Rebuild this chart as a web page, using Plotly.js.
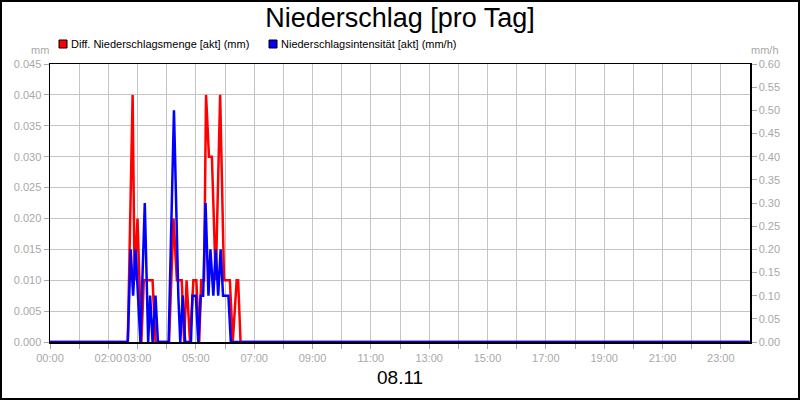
<!DOCTYPE html>
<html>
<head>
<meta charset="utf-8">
<script src="https://cdn.plot.ly/plotly-3.0.1.min.js"></script>
<style>
html,body{margin:0;padding:0;background:#fff;}
#frame{width:796px;height:396px;border:2px solid #000;}
#chart{width:796px;height:396px;}
</style>
</head>
<body>
<div id="frame"><div id="chart"></div></div>
<script>
const day = "2024-11-08";
const dateLabel = "08.11";
const chartTitle = "Niederschlag [pro Tag]";
const redName = "Diff. Niederschlagsmenge [akt] (mm)";
const blueName = "Niederschlagsintensität [akt] (mm/h)";
const leftUnit = "mm";
const rightUnit = "mm/h";

const hourTicks = ["00:00","01:00","02:00","03:00","04:00","05:00","06:00","07:00","08:00","09:00","10:00","11:00",
                   "12:00","13:00","14:00","15:00","16:00","17:00","18:00","19:00","20:00","21:00","22:00","23:00"];
const hourLabels = ["00:00","","02:00","03:00","","05:00","","07:00","","09:00","","11:00",
                    "","13:00","","15:00","","17:00","","19:00","","21:00","","23:00"];

const redTimes = ["00:00","02:40","02:50","02:54","03:00","03:08","03:13","03:31","03:37","04:05","04:14","04:21",
                  "04:31","04:36","04:41","04:48","04:55","05:01","05:07","05:11","05:17","05:21","05:27","05:33",
                  "05:41","05:50","05:58","06:10","06:16","06:24","06:27","06:32","23:59"];
const redValues = [0,0,0.04,0.01,0.02,0,0.01,0.01,0,0,0.02,0.01,
                   0.01,0,0.01,0,0.01,0.01,0,0.01,0.01,0.04,0.03,0.03,
                   0.01,0.04,0.01,0.01,0,0.01,0.01,0,0];

const blueTimes = ["00:00","02:40","02:46","02:51","02:56","03:06","03:15","03:22","03:26","03:31","03:37","03:42",
                   "04:04","04:15","04:24","04:28","04:33","04:38","04:50","04:53","05:00","05:05","05:10","05:15",
                   "05:20","05:26","05:30","05:36","05:41","05:46","05:51","05:56","06:07","06:12","23:59"];
const blueValues = [0,0,0.20,0.10,0.20,0,0.30,0,0.10,0,0.10,0,
                    0,0.50,0.10,0,0.10,0,0,0.10,0.10,0,0.10,0.10,
                    0.30,0.10,0.20,0.10,0.20,0.10,0.20,0.10,0.10,0,0];

const ts = t => day + " " + t;
const FONT = "Liberation Sans, Arial, sans-serif";
const TICKCOL = "#a8a8a8";
const GRIDCOL = "#c4c4c4";

const traces = [
  {x: blueTimes.map(ts), y: blueValues, type: "scatter", mode: "lines", yaxis: "y2",
   line: {color: "#0000ff", width: 2.5}, name: blueName, hoverinfo: "x+y"},
  {x: redTimes.map(ts), y: redValues, type: "scatter", mode: "lines", yaxis: "y",
   line: {color: "#ff0000", width: 2.5}, name: redName, hoverinfo: "x+y"}
];

const PH = 278, PW = 700;
const py = yp => (342 - yp) / PH;   // page y -> paper y
const px = xp => (xp - 50) / PW;    // page x -> paper x

const layout = {
  width: 796, height: 396,
  margin: {l: 48, r: 48, t: 62, b: 56, pad: 0},
  paper_bgcolor: "#fff", plot_bgcolor: "#fff",
  showlegend: false,
  font: {family: FONT, size: 11, color: TICKCOL},
  title: {text: chartTitle, font: {family: FONT, size: 27, color: "#000"},
          x: 0.5, xanchor: "center", y: 1 - 16/396, yanchor: "middle", xref: "container", yref: "container"},
  xaxis: {
    type: "date", range: [ts("00:00"), "2024-11-09 00:00"],
    tickmode: "array", tickvals: hourTicks.map(ts), ticktext: hourLabels, tickangle: 0,
    showgrid: true, gridcolor: GRIDCOL, gridwidth: 1,
    ticks: "outside", ticklen: 5, tickcolor: TICKCOL, tickwidth: 1,
    tickfont: {family: FONT, size: 11, color: TICKCOL},
    showline: true, linecolor: "#000", linewidth: 1.5, mirror: true,
    zeroline: false, fixedrange: true
  },
  yaxis: {
    range: [0, 0.045], dtick: 0.005, tick0: 0, tickformat: ".3f",
    showgrid: true, gridcolor: GRIDCOL, gridwidth: 1,
    ticks: "outside", ticklen: 5, tickcolor: TICKCOL, tickwidth: 1,
    tickfont: {family: FONT, size: 11, color: TICKCOL},
    showline: true, linecolor: "#000", linewidth: 1.5, mirror: true,
    zeroline: false, fixedrange: true
  },
  yaxis2: {
    range: [0, 0.6], dtick: 0.05, tick0: 0, tickformat: ".2f",
    overlaying: "y", side: "right", showgrid: false,
    ticks: "outside", ticklen: 5, tickcolor: TICKCOL, tickwidth: 1,
    tickfont: {family: FONT, size: 11, color: TICKCOL},
    showline: true, linecolor: "#000", linewidth: 1.5,
    zeroline: false, fixedrange: true
  },
  shapes: [
    {type: "rect", xref: "paper", yref: "paper", x0: px(59), x1: px(67), y0: py(48), y1: py(40),
     fillcolor: "#ff0000", line: {color: "#000", width: 1}},
    {type: "rect", xref: "paper", yref: "paper", x0: px(269), x1: px(277), y0: py(48), y1: py(40),
     fillcolor: "#0000ff", line: {color: "#000", width: 1}}
  ],
  annotations: [
    {text: redName, xref: "paper", yref: "paper", x: px(69), y: py(44), xanchor: "left", yanchor: "middle",
     showarrow: false, font: {family: FONT, size: 11, color: "#000"}},
    {text: blueName, xref: "paper", yref: "paper", x: px(279), y: py(44), xanchor: "left", yanchor: "middle",
     showarrow: false, font: {family: FONT, size: 11, color: "#000"}},
    {text: leftUnit, xref: "paper", yref: "paper", x: px(40), y: py(50), xanchor: "center", yanchor: "middle",
     showarrow: false, font: {family: FONT, size: 11, color: TICKCOL}},
    {text: rightUnit, xref: "paper", yref: "paper", x: px(765), y: py(50), xanchor: "center", yanchor: "middle",
     showarrow: false, font: {family: FONT, size: 11, color: TICKCOL}},
    {text: dateLabel, xref: "paper", yref: "paper", x: 0.5, y: py(377), xanchor: "center", yanchor: "middle",
     showarrow: false, font: {family: FONT, size: 19, color: "#000"}}
  ]
};

Plotly.newPlot("chart", traces, layout, {staticPlot: true, displayModeBar: false});
</script>
</body>
</html>
